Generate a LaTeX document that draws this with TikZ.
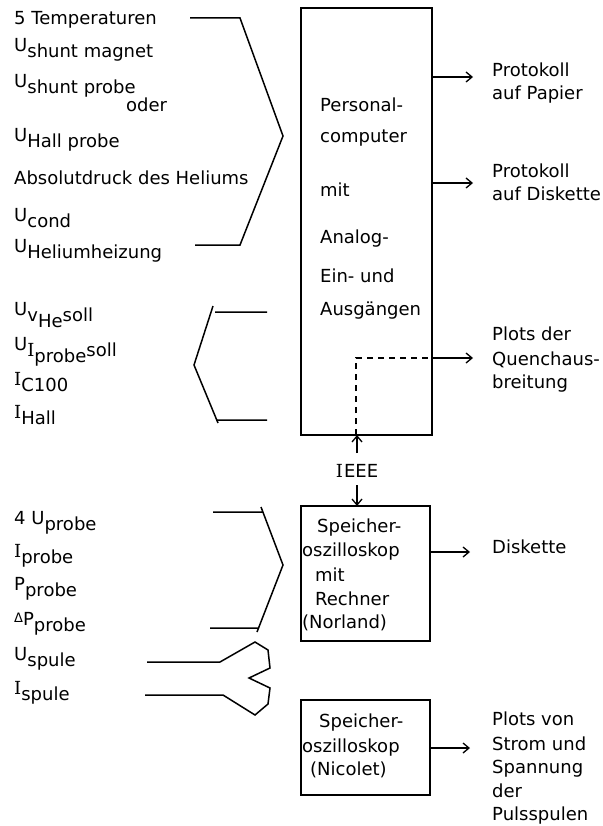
\documentclass[tikz,border=0pt]{standalone}
\usepackage{fontspec}
\setmainfont{DejaVu Sans}
\newfontfamily\serI{DejaVu Serif}
\usetikzlibrary{arrows.meta}
% lowered index text, same size as the main text
\newcommand{\lowr}[1]{\raisebox{-6pt}{#1}}
% the typed capital I with serifs
\newcommand{\Iv}{{\serI I}}
\tikzset{
  lbl/.style={anchor=base west, inner sep=0pt, font=\fontsize{18}{20}\selectfont},
  ctr/.style={anchor=base, inner sep=0pt, font=\fontsize{18}{20}\selectfont},
  unit/.style={draw, line width=1.3pt, inner sep=0pt, outer sep=0pt},
  brace/.style={line width=1.5pt, line join=miter},
  outarrow/.style={line width=1.4pt, -{Straight Barb[length=6pt,width=10pt,line width=1.3pt]}},
  bus/.style={line width=1.4pt, dash pattern=on 6pt off 5pt}
}
\begin{document}
\begin{tikzpicture}[x=1pt,y=-1pt]
\useasboundingbox (0,0) rectangle (602,826);

% ---- units ----
\node[unit, minimum width=131pt, minimum height=427pt] (pc) at (366.5,221.5) {};
\node[unit, minimum width=129pt, minimum height=135pt] (norland) at (365.5,573.5) {};
\node[unit, minimum width=129pt, minimum height=95pt] (nicolet) at (365.5,747.5) {};

% text inside the personal computer
\node[lbl] (pc1) at (320,112) {Personal-};
\node[lbl] (pc2) at (320,143) {computer};
\node[lbl] (pc3) at (320,197) {mit};
\node[lbl] (pc4) at (320,243) {Analog-};
\node[lbl] (pc5) at (320,282) {Ein- und};
\node[lbl] (pc6) at (320,315) {Ausgängen};

% text inside the Norland oscilloscope
\node[lbl] (no1) at (317,532) {Speicher-};
\node[lbl] (no2) at (302,556) {oszilloskop};
\node[lbl] (no3) at (315,581) {mit};
\node[lbl] (no4) at (315,605) {Rechner};
\node[lbl] (no5) at (302,628) {(Norland)};

% text inside the Nicolet oscilloscope
\node[lbl] (ni1) at (319,727) {Speicher-};
\node[lbl] (ni2) at (302,752) {oszilloskop};
\node[lbl] (ni3) at (310,775) {(Nicolet)};

% ---- inputs, group 1 ----
\node[lbl] (a1) at (14,25) {5 Temperaturen};
\node[lbl] (a2) at (14,52) {U\lowr{shunt magnet}};
\node[lbl] (a3) at (14,88) {U\lowr{shunt probe}};
\node[lbl] (a4) at (126,112) {oder};
\node[lbl] (a5) at (14,142) {U\lowr{Hall probe}};
\node[lbl] (a6) at (14,185) {Absolutdruck des Heliums};
\node[lbl] (a7) at (14,222) {U\lowr{cond}};
\node[lbl] (a8) at (14,252) {U\lowr{Heliumheizung}};

% ---- outputs of the computer, group 2 ----
\node[lbl] (b1) at (14,315) {U\lowr{v\lowr{He}soll}};
\node[lbl] (b2) at (14,350) {U\lowr{\Iv\lowr{probe}soll}};
\node[lbl] (b3) at (14,385) {\Iv\lowr{C100}};
\node[lbl] (b4) at (14,418) {\Iv\lowr{Hall}};

% ---- inputs, group 3 ----
\node[lbl] (c1) at (14,524) {4 U\lowr{probe}};
\node[lbl] (c2) at (14,557) {\Iv\lowr{probe}};
\node[lbl] (c3) at (14,590) {P\lowr{probe}};
\node[lbl] (c4) at (14,625) {{\fontsize{13}{14}\selectfont\raisebox{3pt}{Δ}}P\lowr{probe}};
\node[lbl] (c5) at (14,660) {U\lowr{spule}};
\node[lbl] (c6) at (14,694) {\Iv\lowr{spule}};

% ---- braces ----
\draw[brace] (190,18) -- (240,18) -- (283,136) -- (240,245) -- (195,245);
\draw[brace] (267,312) -- (215,312) (213,306) -- (194,365) -- (218,423) (216,420) -- (267,420);
\draw[brace] (213,512) -- (262,512) (261,507) -- (283,565) -- (257,632) (258,628) -- (210,628);
\draw[brace] (147,662) -- (220,662) -- (255,642) -- (268,650) -- (270,668)
  -- (249,678) -- (270,688) -- (268,704) -- (255,715) -- (223,695) -- (145,695);

% ---- results ----
\node[lbl] (r1a) at (492,77) {Protokoll};
\node[lbl] (r1b) at (492,100) {auf Papier};
\node[lbl] (r2a) at (492,178) {Protokoll};
\node[lbl] (r2b) at (492,201) {auf Diskette};
\node[lbl] (r3a) at (492,340) {Plots der};
\node[lbl] (r3b) at (492,365) {Quenchaus-};
\node[lbl] (r3c) at (492,388) {breitung};
\node[lbl] (r4) at (492,553) {Diskette};
\node[lbl] (r5a) at (492,725) {Plots von};
\node[lbl] (r5b) at (492,750) {Strom und};
\node[lbl] (r5c) at (492,773) {Spannung};
\node[lbl] (r5d) at (492,797) {der};
\node[lbl] (r5e) at (492,820) {Pulsspulen};

\coordinate (e1) at (473,77);
\coordinate (e2) at (473,183);
\coordinate (e3) at (473,358);
\coordinate (e4) at (470,552);
\coordinate (e5) at (470,748);
\coordinate (bend) at (356,358);

\draw[outarrow] (pc.east |- e1) -- (e1);
\draw[outarrow] (pc.east |- e2) -- (e2);
\draw[bus] (pc.south -| bend) -- (bend) -- (pc.east |- bend);
\draw[outarrow] (pc.east |- e3) -- (e3);
\draw[outarrow] (norland.east |- e4) -- (e4);
\draw[outarrow] (nicolet.east |- e5) -- (e5);

% ---- IEEE bus ----
\node[ctr] (ieee) at (357,477) {\Iv\kern1pt EEE};
\coordinate (iu) at (357,453);
\coordinate (id) at (357,485);
\draw[outarrow] (iu) -- (pc.south -| iu);
\draw[outarrow] (id) -- (norland.north -| id);
\end{tikzpicture}
\end{document}
